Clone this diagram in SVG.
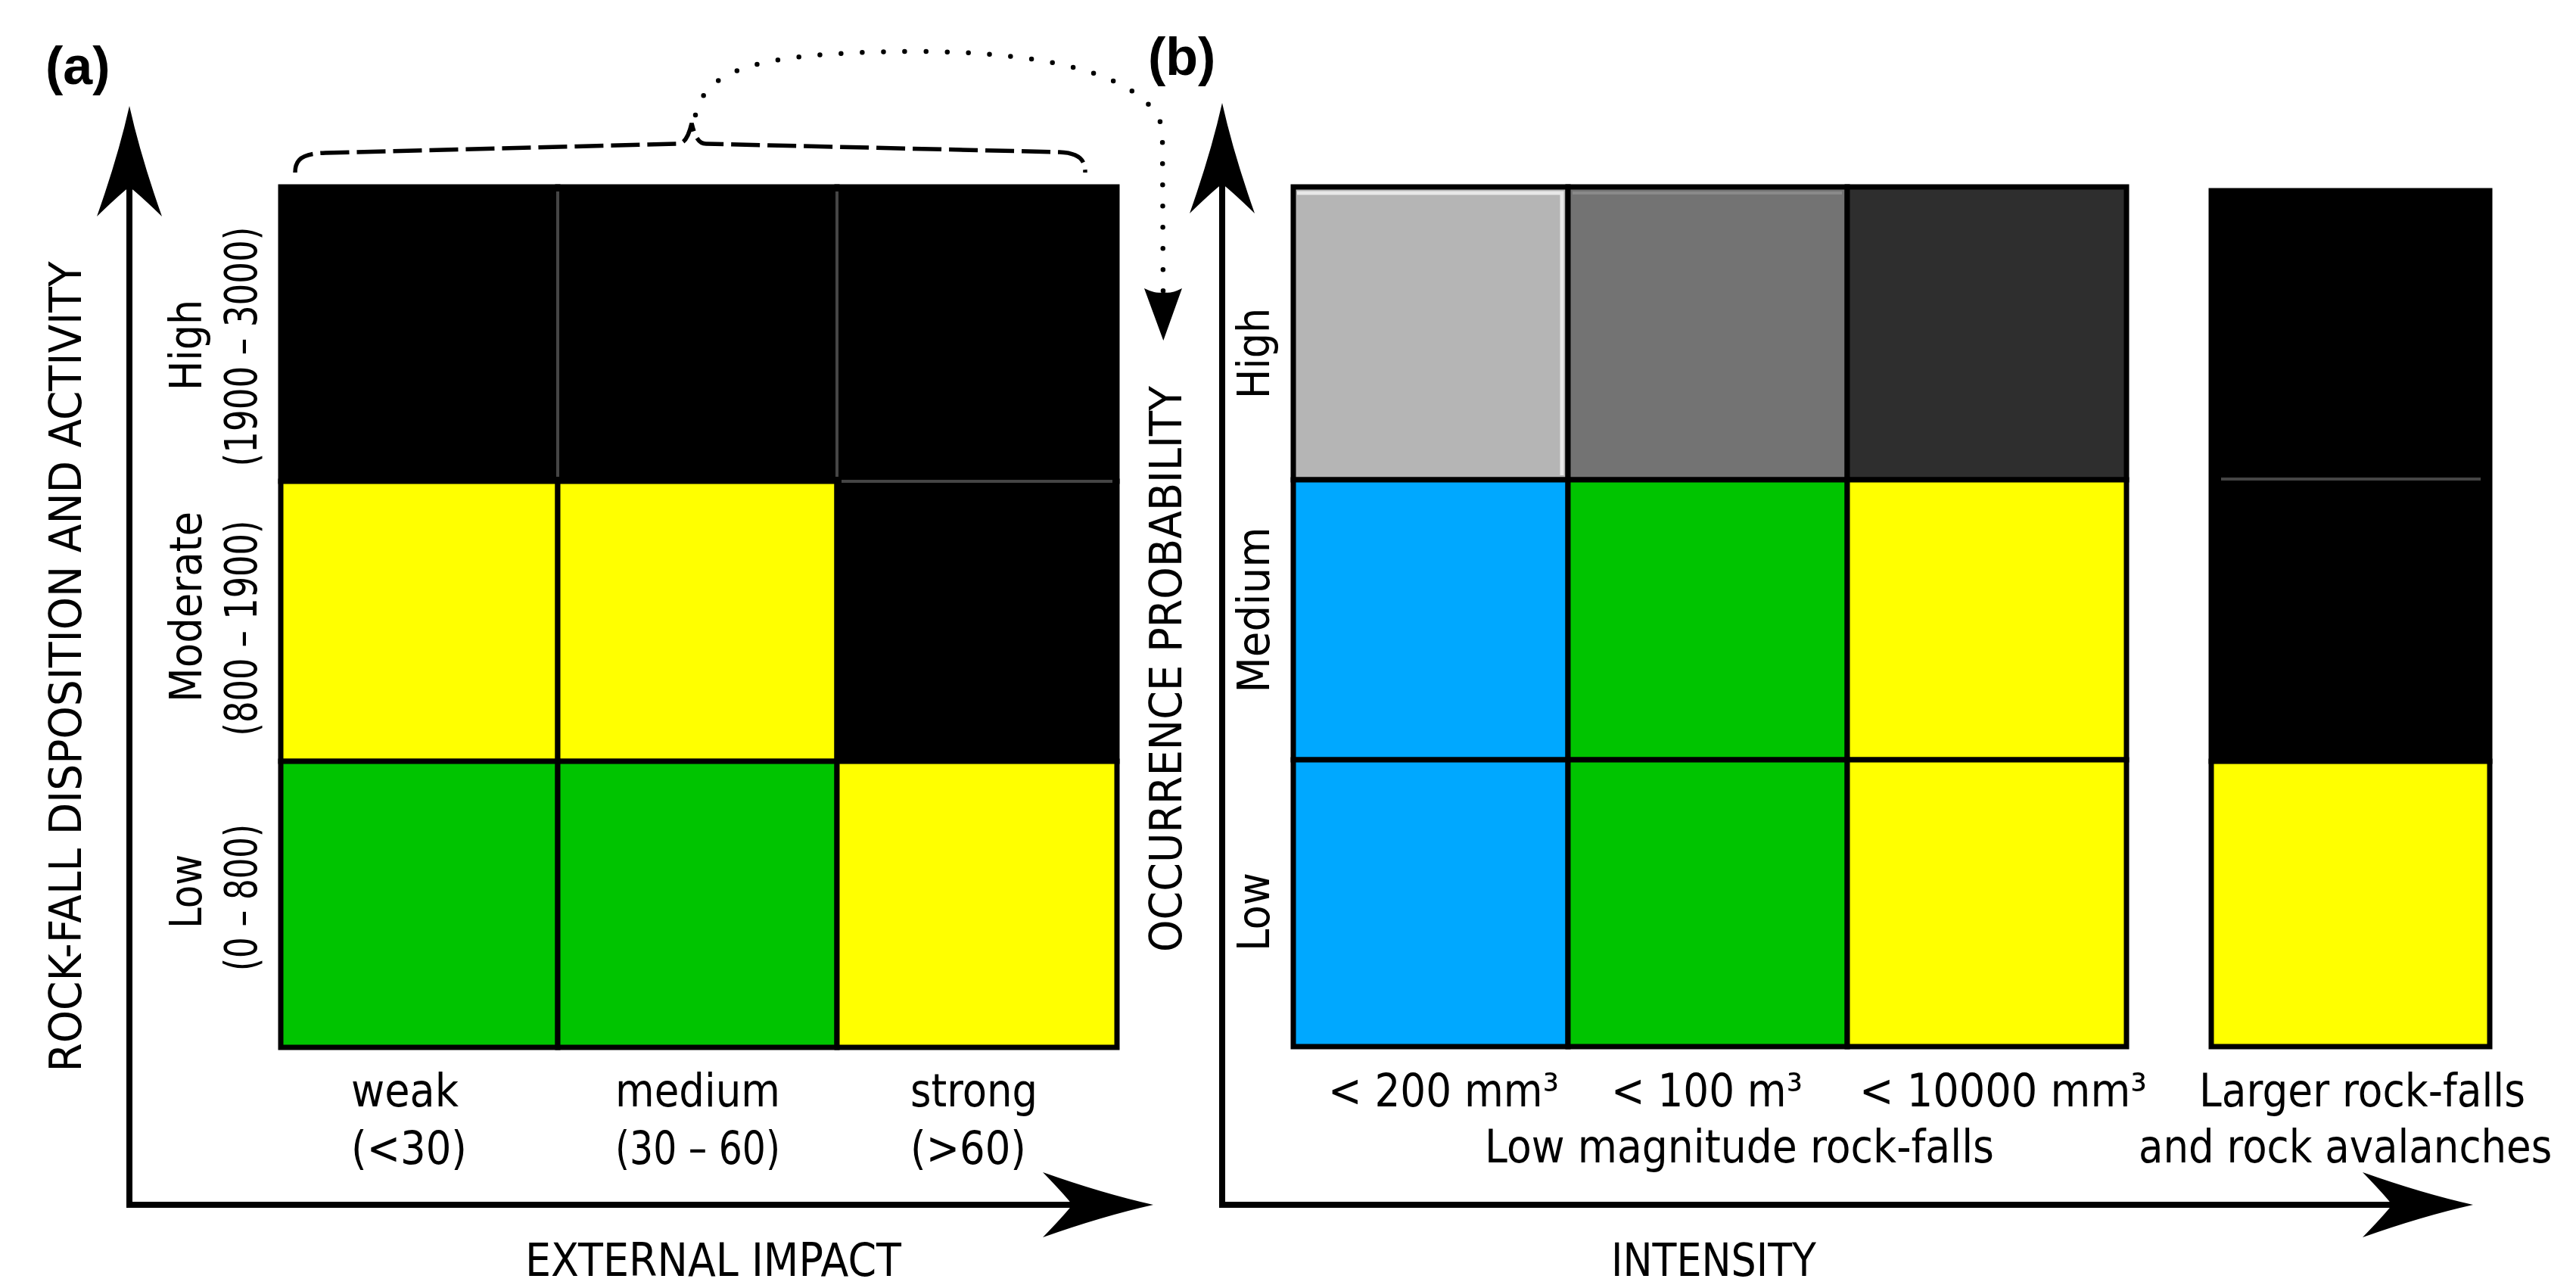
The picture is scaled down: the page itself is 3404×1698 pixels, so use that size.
<svg xmlns="http://www.w3.org/2000/svg" width="3404" height="1698" viewBox="0 0 3404 1698">
<style>
.t{font-family:"DejaVu Sans","Noto Sans",sans-serif;font-size:60px;fill:#000}
.r{font-size:58px}
.m{text-anchor:middle}
.lbl{font-family:"Liberation Sans",Arial,sans-serif;font-weight:bold;font-size:70px;fill:#000}
.cell{stroke:#000;stroke-width:7}
.ax{stroke:#000;stroke-width:8;fill:none}
.sep{stroke:#454545;stroke-width:4}
.brace{stroke:#000;stroke-width:5.5;fill:none;stroke-dasharray:38 10}
.dots{stroke:#000;stroke-width:6.5;fill:none;stroke-dasharray:0 28;stroke-linecap:round}
.k{fill:#000}.y{fill:#ffff00}.g{fill:#00c400}.b{fill:#00a8ff}
</style>
<defs>
<marker id="ah" markerUnits="userSpaceOnUse" orient="auto" refX="0" refY="0" markerWidth="10" markerHeight="10" style="overflow:visible">
<path d="M107,0 Q40,-15 -39,-43 Q-10,-13 0,0 Q-10,13 -39,43 Q40,15 107,0Z" fill="#000"/>
</marker>
<marker id="ahs" markerUnits="userSpaceOnUse" orient="auto" refX="0" refY="0" markerWidth="10" markerHeight="10" style="overflow:visible">
<path d="M64,0 L-5,-25 Q3,-9 0,0 Q3,9 -5,25Z" fill="#000"/>
</marker>
</defs>
<rect width="3404" height="1698" fill="#fff"/>

<g id="connectors">
<line class="ax" x1="171" y1="1596" x2="171" y2="247" marker-end="url(#ah)"/>
<line class="ax" x1="167" y1="1592" x2="1417" y2="1592" marker-end="url(#ah)"/>
<line class="ax" x1="1615" y1="1596" x2="1615" y2="243" marker-end="url(#ah)"/>
<line class="ax" x1="1611" y1="1592" x2="3161" y2="1592" marker-end="url(#ah)"/>
<path id="brace" class="brace" d="M390,228 C390,210 400,203 430,202 L895,190 C905,190 910,180 914,163 C918,180 923,190 933,190 L1400,201 C1425,202 1434,210 1434,228"/>
<path id="dotted-link" class="dots" d="M919,152 C933,88 1010,70 1200,68 C1400,67 1520,105 1536,170 L1537,386" marker-end="url(#ahs)"/>
</g>

<g id="grid-a">
<rect id="a-r1c1" class="cell k" x="371" y="247" width="366" height="389"/>
<rect id="a-r1c2" class="cell k" x="737" y="247" width="369" height="389"/>
<rect id="a-r1c3" class="cell k" x="1106" y="247" width="370" height="389"/>
<rect id="a-r2c1" class="cell y" x="371" y="636" width="366" height="370"/>
<rect id="a-r2c2" class="cell y" x="737" y="636" width="369" height="370"/>
<rect id="a-r2c3" class="cell k" x="1106" y="636" width="370" height="370"/>
<rect id="a-r3c1" class="cell g" x="371" y="1006" width="366" height="378"/>
<rect id="a-r3c2" class="cell g" x="737" y="1006" width="369" height="378"/>
<rect id="a-r3c3" class="cell y" x="1106" y="1006" width="370" height="378"/>
<line class="sep" x1="737" y1="253" x2="737" y2="630"/>
<line class="sep" x1="1106" y1="253" x2="1106" y2="630"/>
<line class="sep" x1="1112" y1="636" x2="1470" y2="636"/>
</g>

<g id="grid-b">
<rect id="b-r1c1" class="cell" fill="#b5b5b5" x="1709" y="247" width="363" height="387"/>
<rect id="b-r1c2" class="cell" fill="#737373" x="2072" y="247" width="369" height="387"/>
<rect id="b-r1c3" class="cell" fill="#2e2e2e" x="2441" y="247" width="369" height="387"/>
<polyline points="1714,255 2064,255 2064,628" fill="none" stroke="#e8e8e8" stroke-width="5"/>
<polyline points="2078,255 2434,255" fill="none" stroke="#8a8a8a" stroke-width="4"/>
<rect id="b-r2c1" class="cell b" x="1709" y="634" width="363" height="370"/>
<rect id="b-r2c2" class="cell g" x="2072" y="634" width="369" height="370"/>
<rect id="b-r2c3" class="cell y" x="2441" y="634" width="369" height="370"/>
<rect id="b-r3c1" class="cell b" x="1709" y="1004" width="363" height="379"/>
<rect id="b-r3c2" class="cell g" x="2072" y="1004" width="369" height="379"/>
<rect id="b-r3c3" class="cell y" x="2441" y="1004" width="369" height="379"/>
</g>

<g id="grid-b-large">
<rect id="bl-top" class="cell k" x="2922" y="252" width="368" height="754"/>
<line class="sep" x1="2935" y1="633" x2="3278" y2="633"/>
<rect id="bl-low" class="cell y" x="2922" y="1006" width="368" height="377"/>
</g>

<g id="labels-a">
<text id="lab-a" class="lbl" x="60" y="111">(a)</text>
<text class="t r m" transform="translate(107,881) rotate(-90)" textLength="1071" lengthAdjust="spacingAndGlyphs">ROCK-FALL DISPOSITION AND ACTIVITY</text>
<text class="t r m" transform="translate(266,456) rotate(-90)" textLength="120" lengthAdjust="spacingAndGlyphs">High</text>
<text class="t r m" transform="translate(339,458) rotate(-90)" textLength="317" lengthAdjust="spacingAndGlyphs">(1900 – 3000)</text>
<text class="t r m" transform="translate(266,802) rotate(-90)" textLength="252" lengthAdjust="spacingAndGlyphs">Moderate</text>
<text class="t r m" transform="translate(339,830) rotate(-90)" textLength="285" lengthAdjust="spacingAndGlyphs">(800 – 1900)</text>
<text class="t r m" transform="translate(266,1178) rotate(-90)" textLength="98" lengthAdjust="spacingAndGlyphs">Low</text>
<text class="t r m" transform="translate(339,1186) rotate(-90)" textLength="194" lengthAdjust="spacingAndGlyphs">(0 – 800)</text>
<text class="t" x="464" y="1462" textLength="142" lengthAdjust="spacingAndGlyphs">weak</text>
<text class="t" x="464" y="1538" textLength="153" lengthAdjust="spacingAndGlyphs">(&lt;30)</text>
<text class="t" x="813" y="1462" textLength="218" lengthAdjust="spacingAndGlyphs">medium</text>
<text class="t" x="813" y="1538" textLength="218" lengthAdjust="spacingAndGlyphs">(30 – 60)</text>
<text class="t" x="1203" y="1462" textLength="168" lengthAdjust="spacingAndGlyphs">strong</text>
<text class="t" x="1203" y="1538" textLength="153" lengthAdjust="spacingAndGlyphs">(&gt;60)</text>
<text class="t" x="694" y="1686" textLength="497" lengthAdjust="spacingAndGlyphs">EXTERNAL IMPACT</text>
</g>

<g id="labels-b">
<text id="lab-b" class="lbl" x="1517" y="99">(b)</text>
<text class="t r m" transform="translate(1561,884) rotate(-90)" textLength="748" lengthAdjust="spacingAndGlyphs">OCCURRENCE PROBABILITY</text>
<text class="t r m" transform="translate(1677,467) rotate(-90)" textLength="120" lengthAdjust="spacingAndGlyphs">High</text>
<text class="t r m" transform="translate(1677,806) rotate(-90)" textLength="219" lengthAdjust="spacingAndGlyphs">Medium</text>
<text class="t r m" transform="translate(1677,1205) rotate(-90)" textLength="104" lengthAdjust="spacingAndGlyphs">Low</text>
<text class="t" x="1755" y="1462" textLength="305" lengthAdjust="spacingAndGlyphs">&lt; 200 mm³</text>
<text class="t" x="2129" y="1462" textLength="253" lengthAdjust="spacingAndGlyphs">&lt; 100 m³</text>
<text class="t" x="2457" y="1462" textLength="380" lengthAdjust="spacingAndGlyphs">&lt; 10000 mm³</text>
<text class="t" x="2906" y="1462" textLength="431" lengthAdjust="spacingAndGlyphs">Larger rock-falls</text>
<text class="t" x="1962" y="1536" textLength="673" lengthAdjust="spacingAndGlyphs">Low magnitude rock-falls</text>
<text class="t" transform="translate(2826,1536) scale(1,1.13)" style="font-size:53px">and rock avalanches</text>
<text class="t" x="2129" y="1686" textLength="271" lengthAdjust="spacingAndGlyphs">INTENSITY</text>
</g>
</svg>
